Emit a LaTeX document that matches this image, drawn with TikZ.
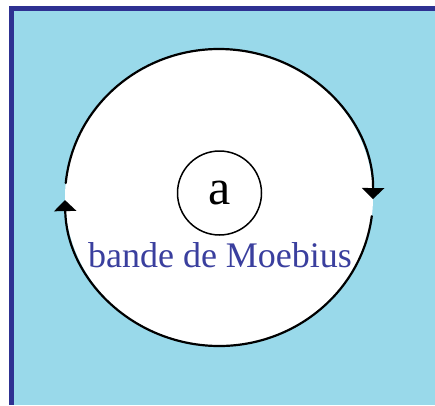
\documentclass[tikz,border=0pt]{standalone}
\usepackage{fontspec}
\setmainfont{Liberation Serif}
\usetikzlibrary{arrows.meta}
\definecolor{frameblue}{HTML}{2E3192}
\definecolor{skyfill}{HTML}{99D9EA}
\definecolor{labelblue}{HTML}{3A3F9E}

\begin{document}
\begin{tikzpicture}[x=1pt,y=1pt,>={Triangle[length=11pt,width=22pt]},line cap=round,
  band/.style={black,line width=2.2pt}]
\useasboundingbox (0,0) rectangle (435,405);
\fill[frameblue] (9,0) rectangle (435,399);
\fill[skyfill] (14,0) rectangle (435,394);
\coordinate (c) at (219,207.5);
\fill[white] (c) ellipse[x radius=154pt,y radius=148.5pt];
\draw[band,->] ([shift={(174.4:154pt and 148.5pt)}]c) arc[start angle=174.4,end angle=-0.6,x radius=154pt,y radius=148.5pt];
\draw[band,->] ([shift={(-7.2:154pt and 148.5pt)}]c) arc[start angle=-7.2,end angle=-179,x radius=154pt,y radius=148.5pt];
\node[circle,draw,line width=1.5pt,minimum size=84pt,inner sep=0pt,font=\fontsize{50}{50}\selectfont] (a) at (219.5,212) {a};
\node[text=labelblue,font=\fontsize{36}{36}\selectfont,anchor=base] (name) at (220,138) {bande de Moebius};
\end{tikzpicture}
\end{document}
